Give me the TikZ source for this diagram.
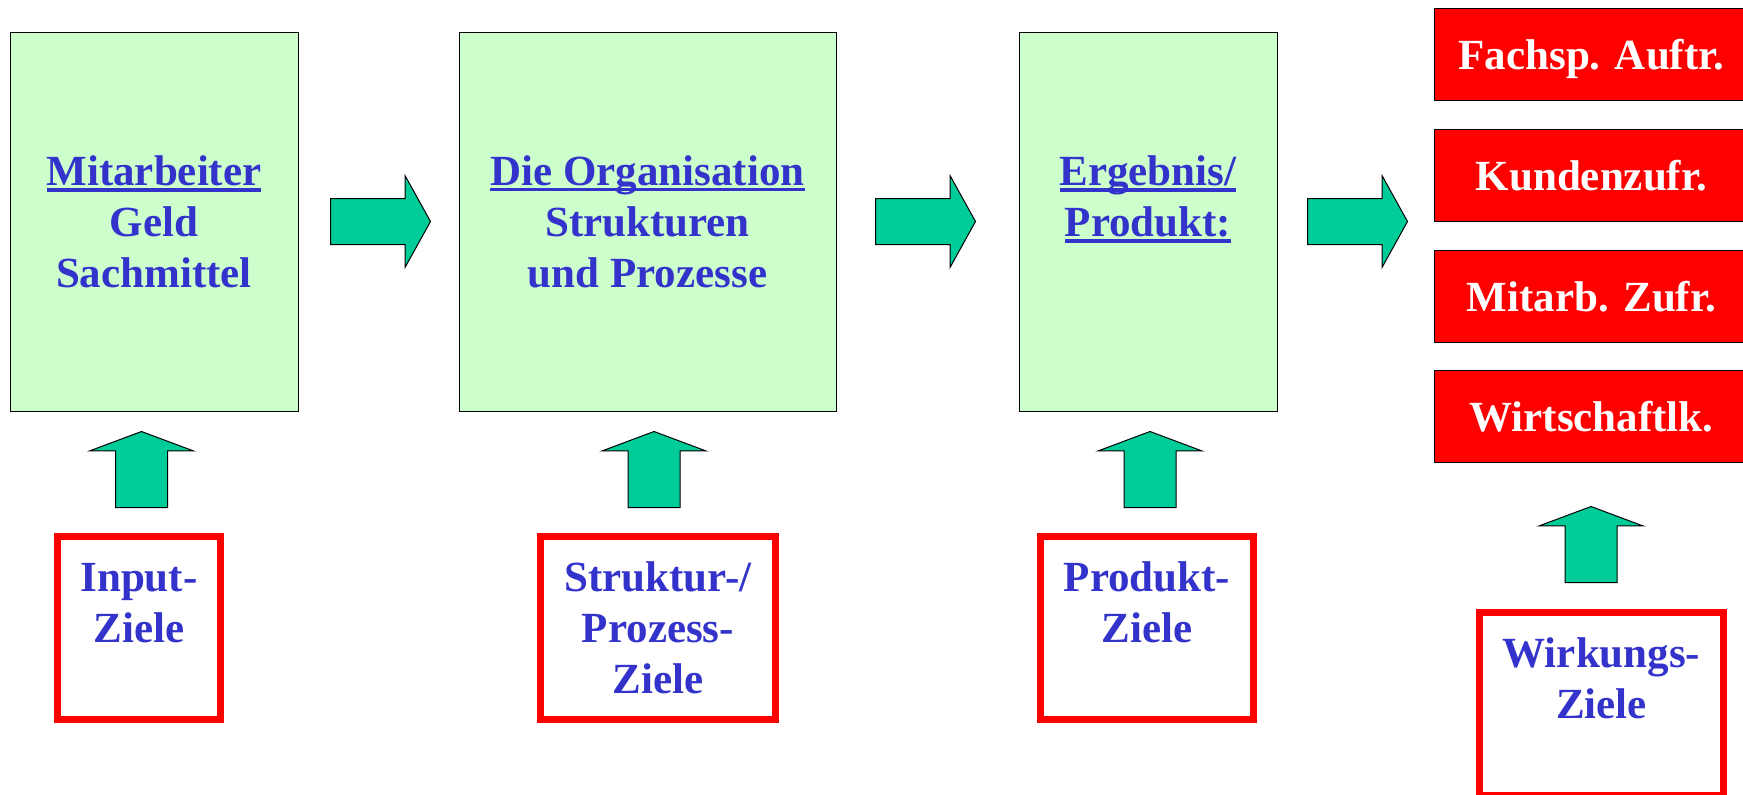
\documentclass[tikz,border=0pt]{standalone}
\usepackage{fontspec}
\setmainfont{Liberation Serif}
\usetikzlibrary{shapes.arrows}

\definecolor{zielblau}{HTML}{3333CC}
\definecolor{stufengruen}{HTML}{CCFFCC}
\definecolor{pfeilgruen}{HTML}{00CC99}
\definecolor{zielrot}{HTML}{FF0000}

\newcommand\zfont{\fontsize{43}{51}\selectfont\bfseries}
\newcommand\ulin[1]{\setbox0\hbox{#1}\rlap{\rule[-6.3pt]{\wd0}{3.3pt}}\box0}

\tikzset{
	stufe/.style={draw=black, line width=1pt, fill=stufengruen, text=zielblau, font=\zfont, align=center, inner sep=0pt},
	ziel/.style={draw=zielrot, line width=7pt, text=zielblau, font=\zfont, align=center, inner sep=0pt, minimum height=183pt},
	wirkung/.style={draw=black, line width=1pt, fill=zielrot, text=white, font=\zfont, minimum width=315pt, minimum height=92pt, text height=31pt, text depth=1pt, inner sep=0pt},
	blockpfeil/.style={single arrow, draw=black, line width=1pt, fill=pfeilgruen, single arrow head indent=0pt},
	rechtspfeil/.style={blockpfeil, anchor=tail, inner sep=22.5pt, minimum height=100pt, single arrow head extend=23pt, single arrow tip angle=122},
	hochpfeil/.style={blockpfeil, anchor=tail, inner sep=25.5pt, shape border rotate=90, minimum height=76pt, single arrow head extend=26pt, single arrow tip angle=139}
}

\begin{document}
\begin{tikzpicture}[x=1pt, y=-1pt]
	\clip (0 , 0) rectangle (1743 , 795);

	% obere Reihe
	\node[stufe, minimum width=288pt, minimum height=379pt] (input) at (154 , 221.5) {\ulin{Mitarbeiter}\\Geld\\Sachmittel};
	\node[stufe, minimum width=377pt, minimum height=379pt] (orga) at (647.5 , 221.5) {\ulin{Die Organisation}\\Strukturen\\und Prozesse};
	\node[stufe, minimum width=258pt, minimum height=379pt] (ergebnis) at (1148 , 221.5) {\ulin{Ergebnis/}\\\ulin{Produkt:}\\\mbox{}};

	\node[rechtspfeil] (p1) at (330 , 221.5) {};
	\node[rechtspfeil] (p2) at (875 , 221.5) {};
	\node[rechtspfeil] (p3) at (1307 , 221.5) {};

	% Wirkungen
	\node[wirkung] (fach) at (1591.5 , 54) {Fachsp. Auftr.};
	\node[wirkung] (kunde) at (1591.5 , 175) {Kundenzufr.};
	\node[wirkung] (mitzuf) at (1591.5 , 296) {Mitarb. Zufr.};
	\node[wirkung] (wirt) at (1591.5 , 416.5) {Wirtschaftlk.};

	% Ziele
	\node[ziel, minimum width=163pt] (zinput) at (139 , 628) {Input-\\Ziele\\\mbox{}};
	\node[ziel, minimum width=235pt] (zstruktur) at (658 , 628) {Struktur-/\\Prozess-\\Ziele};
	\node[ziel, minimum width=213pt] (zprodukt) at (1147 , 628) {Produkt-\\Ziele\\\mbox{}};
	\node[ziel, minimum width=244pt] (zwirkung) at (1601.5 , 704) {Wirkungs-\\Ziele\\\mbox{}};

	\node[hochpfeil] (h1) at (141.5 , 508) {};
	\node[hochpfeil] (h2) at (654 , 508) {};
	\node[hochpfeil] (h3) at (1150 , 508) {};
	\node[hochpfeil] (h4) at (1591 , 583) {};
\end{tikzpicture}
\end{document}
